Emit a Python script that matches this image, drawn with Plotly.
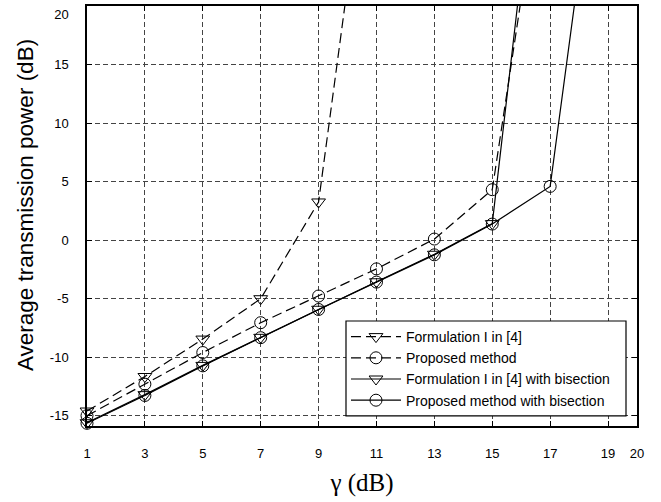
import plotly.graph_objects as go

# ---- data ----
gamma_form1 = [1, 3, 5, 7, 9, 11]
form1 = [-14.6, -11.65, -8.45, -5.0, 3.27, 40.2]

gamma_prop = [1, 3, 5, 7, 9, 11, 13, 15, 17]
prop = [-15.0, -12.3, -9.6, -7.05, -4.77, -2.45, 0.1, 4.32, 37.0]

gamma_form1_bis = [1, 3, 5, 7, 9, 11, 13, 15, 17]
form1_bis = [-15.6, -13.2, -10.7, -8.3, -5.9, -3.55, -1.2, 1.42, 44.2]

gamma_prop_bis = [1, 3, 5, 7, 9, 11, 13, 15, 17, 19]
prop_bis = [-15.65, -13.27, -10.74, -8.33, -5.92, -3.58, -1.25, 1.38, 4.6, 41.6]

x_ticks = [1, 3, 5, 7, 9, 11, 13, 15, 17, 19, 20]
y_ticks = [-15, -10, -5, 0, 5, 10, 15, 20]
y_ticklabels = ["-15", "-10", "-5", "0", "5", "10", "15", "<br>20"]

names = [
    "Formulation I in [4]",
    "Proposed method",
    "Formulation I in [4] with bisection",
    "Proposed method with bisection",
]
x_title = "γ (dB)"
y_title = "Average transmission power (dB)"

SANS = "Liberation Sans, Arial, Helvetica, sans-serif"
SERIF = "Liberation Serif, Times New Roman, serif"
DATA_DASH = "10px,5px"

fig = go.Figure()

series = [
    (gamma_form1, form1, names[0], DATA_DASH, "triangle-down-open", 12),
    (gamma_prop, prop, names[1], DATA_DASH, "circle-open", 12),
    (gamma_form1_bis, form1_bis, names[2], "solid", "triangle-down-open", 12),
    (gamma_prop_bis, prop_bis, names[3], "solid", "circle-open", 12),
]

for xs, ys, nm, dash, sym, sz in series:
    fig.add_trace(go.Scatter(
        x=xs, y=ys, name=nm, mode="lines+markers", cliponaxis=False,
        line=dict(color="black", width=1.2, dash=dash),
        marker=dict(symbol=sym, size=sz, color="black",
                    line=dict(color="black", width=1)),
    ))

# legend frame (paper coordinates)
LEG_X0, LEG_X1, LEG_Y0, LEG_Y1 = 0.4709, 0.98, 0.024, 0.25

fig.update_layout(
    width=661, height=502,
    margin=dict(l=87, r=24, t=6, b=76),
    paper_bgcolor="white", plot_bgcolor="white",
    font=dict(family=SANS, size=13, color="black"),
    showlegend=True,
    legend=dict(
        x=LEG_X0, y=LEG_Y1, xanchor="left", yanchor="top",
        bgcolor="rgba(0,0,0,0)", borderwidth=0,
        font=dict(family=SANS, size=14, color="black"),
        tracegroupgap=0, itemwidth=50,
    ),
    shapes=[dict(
        type="rect", xref="paper", yref="paper",
        x0=LEG_X0, x1=LEG_X1, y0=LEG_Y0, y1=LEG_Y1,
        fillcolor="white", line=dict(color="black", width=1.2), layer="above",
    )],
    annotations=[dict(
        text=y_title, textangle=-90, showarrow=False,
        xref="paper", yref="paper", x=-0.1127, y=0.526,
        xanchor="center", yanchor="middle",
        font=dict(family=SANS, size=22.5, color="black"),
    )],
)

fig.update_xaxes(
    range=[1, 20], tickmode="array", tickvals=x_ticks,
    ticktext=[str(v) for v in x_ticks],
    ticks="inside", ticklen=5, tickcolor="black",
    showline=True, linecolor="black", linewidth=1.5, mirror="ticks",
    showgrid=True, gridcolor="#444444", gridwidth=1, griddash="5px,3px",
    zeroline=False, automargin=False,
    tickfont=dict(family=SANS, size=13),
    ticklabelstandoff=15,
    title=dict(text=x_title, font=dict(family=SERIF, size=25), standoff=13),
)

fig.update_yaxes(
    range=[-15.88, 20.02], tickmode="array", tickvals=y_ticks,
    ticktext=y_ticklabels,
    ticks="inside", ticklen=5, tickcolor="black",
    showline=True, linecolor="black", linewidth=1.5, mirror="ticks",
    showgrid=True, gridcolor="#444444", gridwidth=1, griddash="5px,3px",
    zeroline=False, automargin=False, ticklabeloverflow="allow",
    tickfont=dict(family=SANS, size=13),
    ticklabelstandoff=14,
)

fig.write_html("out.html", config={"displayModeBar": False},
               post_script="document.body.style.margin='0px';")
